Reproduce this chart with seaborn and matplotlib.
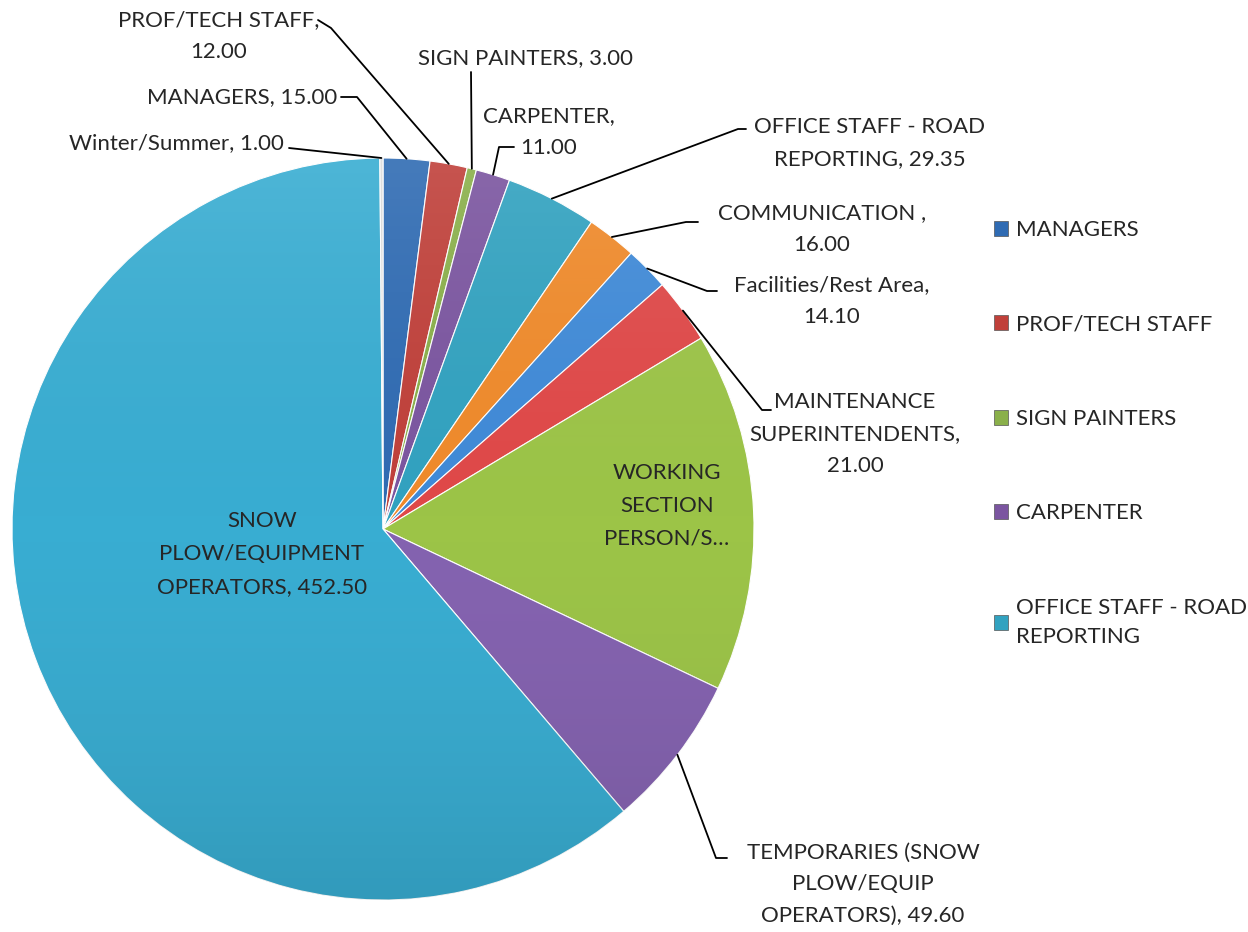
import numpy as np
import matplotlib
matplotlib.use('Agg')
import matplotlib.pyplot as plt
import seaborn as sns

categories = ['MANAGERS', 'PROF/TECH STAFF', 'SIGN PAINTERS', 'CARPENTER',
              'OFFICE STAFF - ROAD REPORTING', 'COMMUNICATION ',
              'Facilities/Rest Area', 'MAINTENANCE SUPERINTENDENTS',
              'WORKING SECTION PERSON/S', 'TEMPORARIES (SNOW PLOW/EQUIP OPERATORS)',
              'SNOW PLOW/EQUIPMENT OPERATORS', 'Winter/Summer']
values = [15.00, 12.00, 3.00, 11.00, 29.35, 16.00, 14.10, 21.00, 116.0, 49.60, 452.50, 1.00]
label_text = ['MANAGERS, 15.00', 'PROF/TECH STAFF,\n12.00', 'SIGN PAINTERS, 3.00',
              'CARPENTER,\n11.00', 'OFFICE STAFF - ROAD\nREPORTING, 29.35',
              'COMMUNICATION ,\n16.00', 'Facilities/Rest Area,\n14.10',
              'MAINTENANCE\nSUPERINTENDENTS,\n21.00', 'WORKING\nSECTION\nPERSON/S\u2026',
              'TEMPORARIES (SNOW\nPLOW/EQUIP\nOPERATORS), 49.60',
              'SNOW\nPLOW/EQUIPMENT\nOPERATORS, 452.50', 'Winter/Summer, 1.00']
legend_labels = ['MANAGERS', 'PROF/TECH STAFF', 'SIGN PAINTERS', 'CARPENTER',
                 'OFFICE STAFF - ROAD\nREPORTING']
colors = ['#2F6BB3', '#C0403A', '#8AB04A', '#7B55A0', '#31A2C0', '#F08A2A',
          '#3F8AD8', '#E04848', '#9CC447', '#8462B0', '#38ADD2', '#DCDCDC']

sns.set_theme(style='white')
plt.rcParams['font.family'] = ['Lato', 'DejaVu Sans']

W, H = 1248, 932
CX, CY, R = 383, 529, 371
fig = plt.figure(figsize=(W / 100, H / 100), dpi=100)
ax = fig.add_axes([(CX - R) / W, (H - CY - R) / H, 2 * R / W, 2 * R / H])

wedges, _ = ax.pie(values, colors=colors, startangle=90, counterclock=False,
                   radius=1, wedgeprops=dict(linewidth=0.8, edgecolor='white'))
ax.set_xlim(-1, 1)
ax.set_ylim(-1, 1)
ax.axis('off')

# soft light-to-dark shading over the whole pie
grad = np.linspace(1, 0, 256).reshape(-1, 1)
shade = np.zeros((256, 1, 4))
shade[..., :3] = grad[..., None] * 1.0
shade[..., 3] = np.abs(grad - 0.5) * 0.22
im = ax.imshow(shade, extent=(-1, 1, -1, 1), aspect='auto', zorder=3)
circ = plt.Circle((0, 0), 1, transform=ax.transData)
im.set_clip_path(circ)


def px(x, y):
    return (x - CX) / R, (CY - y) / R


def edge(w, r=1.0):
    a = np.deg2rad((w.theta1 + w.theta2) / 2)
    return r * np.cos(a), r * np.sin(a)


# text anchor (figure px), alignment, leader-line points (figure px)
layout = {
    0: ((337, 97), 'right', [(341, 97), (357, 97)]),
    1: ((219, 36), 'center', [(318, 20), (331, 28)]),
    2: ((525, 58), 'center', [(471, 72)]),
    3: ((549, 132), 'center', [(514, 147), (499, 147)]),
    4: ((870, 143), 'center', [(746, 129), (738, 129)]),
    5: ((822, 229), 'center', [(698, 222), (686, 222)]),
    6: ((832, 301), 'center', [(717, 291), (707, 291)]),
    7: ((855, 434), 'center', [(771, 410), (762, 410)]),
    9: ((863, 884), 'center', [(727, 858), (716, 858)]),
    11: ((284, 143), 'right', [(289, 148)]),
}
inside = {8: (667, 506), 10: (262, 554)}

for i, ((tx, ty), ha, pts) in layout.items():
    ex, ey = edge(wedges[i])
    path = [px(*p) for p in pts] + [(ex, ey)]
    xs, ys = zip(*path)
    ax.plot(xs, ys, color='black', lw=1.3, clip_on=False, zorder=4)
    x, y = px(tx, ty)
    ax.text(x, y, label_text[i], ha=ha, va='center', fontsize=16,
            linespacing=1.72, multialignment='center', clip_on=False)

for i, (tx, ty) in inside.items():
    x, y = px(tx, ty)
    ax.text(x, y, label_text[i], ha='center', va='center', fontsize=16,
            linespacing=1.8, zorder=5)

handles = [plt.Rectangle((0, 0), 1, 1, facecolor=colors[i], edgecolor='#555555', lw=0.5)
           for i in range(5)]
leg = fig.legend(handles, legend_labels, loc='upper left',
                 bbox_to_anchor=(974 / W, 1 - 200 / H), frameon=False, fontsize=16,
                 handlelength=0.65, handleheight=0.65, handletextpad=0.35,
                 labelspacing=3.35)
for t in leg.get_texts():
    t.set_linespacing(1.6)

fig.savefig('out.png', dpi=100, facecolor='white')
